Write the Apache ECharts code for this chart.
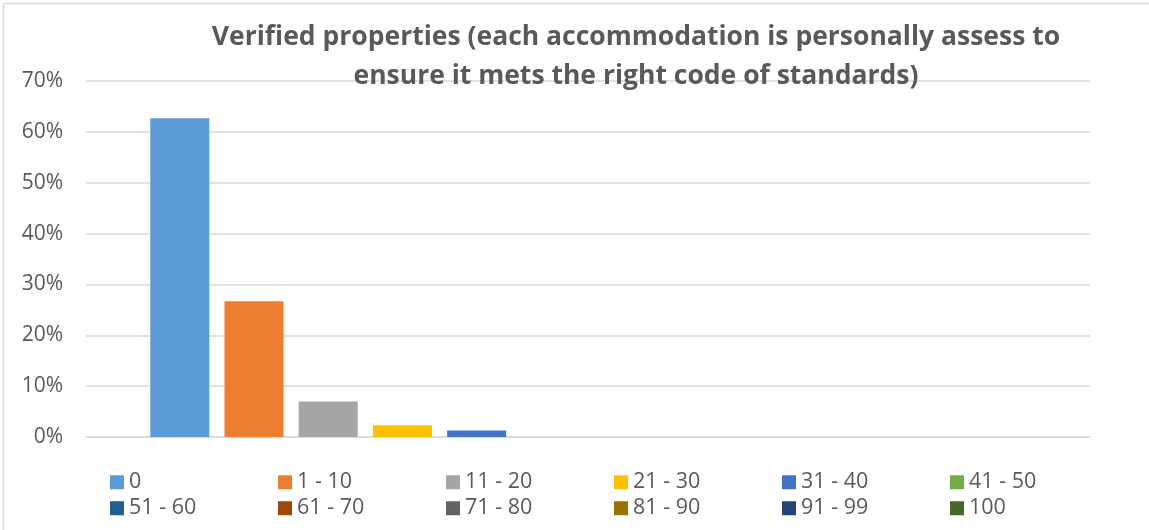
<!DOCTYPE html>
<html>
<head>
<meta charset="utf-8">
<script src="https://cdn.jsdelivr.net/npm/echarts@6/dist/echarts.min.js"></script>
<style>
html,body{margin:0;padding:0;background:#fff;}
#chart{width:1149px;height:530px;}
</style>
</head>
<body>
<div id="chart"></div>
<script>
const titleText = 'Verified properties (each accommodation is personally assess to\nensure it mets the right code of standards)';
const categories = [''];
const seriesNames = ['0','1 - 10','11 - 20','21 - 30','31 - 40','41 - 50','51 - 60','61 - 70','71 - 80','81 - 90','91 - 99','100'];
const seriesValues = [0.627, 0.267, 0.070, 0.023, 0.013, 0, 0, 0, 0, 0, 0, 0];
const seriesColors = ['#5B9BD5','#ED7D31','#A5A5A5','#FFC000','#4472C4','#70AD47','#255E91','#9E480E','#636363','#997300','#264478','#43682B'];
const yTicks = [0, 0.1, 0.2, 0.3, 0.4, 0.5, 0.6, 0.7];

const chart = echarts.init(document.getElementById('chart'), null, {renderer:'canvas'});
const font = '"Open Sans", "Noto Sans", sans-serif';
const legendLefts = [110, 278, 446, 614, 782, 950];
const legendFont = 21.5;
const legends = seriesNames.map((n, i) => ({
  left: legendLefts[i % 6],
  top: (i < 6 ? 482 : 508) - legendFont / 2,
  itemWidth: 14,
  itemHeight: 14,
  padding: 0,
  icon: 'rect',
  data: [n],
  textStyle: {fontFamily: font, fontSize: legendFont, color: '#595959'}
}));

chart.setOption({
  animation: false,
  textStyle: {fontFamily: font},
  title: {
    text: titleText,
    left: 631,
    textAlign: 'center',
    top: 13,
    textStyle: {fontFamily: font, fontSize: 26.5, fontWeight: 'bold', color: '#595959', lineHeight: 39}
  },
  graphic: [
    {type: 'line', shape: {x1: 3.5, y1: 3.5, x2: 1149, y2: 3.5}, style: {stroke: '#d9d9d9', lineWidth: 1.5}},
    {type: 'line', shape: {x1: 3.5, y1: 3.5, x2: 3.5, y2: 530}, style: {stroke: '#d9d9d9', lineWidth: 1.5}}
  ],
  legend: legends,
  grid: {left: 86, right: 59, top: 81, bottom: 93, containLabel: false},
  xAxis: {
    type: 'category',
    data: categories,
    axisLine: {show: true, lineStyle: {color: '#d9d9d9', width: 1.5}},
    axisTick: {show: false},
    axisLabel: {show: false}
  },
  yAxis: {
    type: 'value',
    min: yTicks[0],
    max: yTicks[yTicks.length - 1],
    interval: 0.1,
    axisLine: {show: false},
    axisTick: {show: false},
    splitLine: {lineStyle: {color: '#d9d9d9', width: 1.5}},
    axisLabel: {
      margin: 23,
      fontFamily: font,
      fontSize: 21,
      color: '#595959',
      formatter: v => Math.round(v * 100) + '%'
    }
  },
  series: seriesNames.map((n, i) => ({
    name: n,
    type: 'bar',
    data: [seriesValues[i]],
    barWidth: 59,
    barGap: '25.8%',
    itemStyle: {color: seriesColors[i]}
  }))
});
</script>
</body>
</html>
